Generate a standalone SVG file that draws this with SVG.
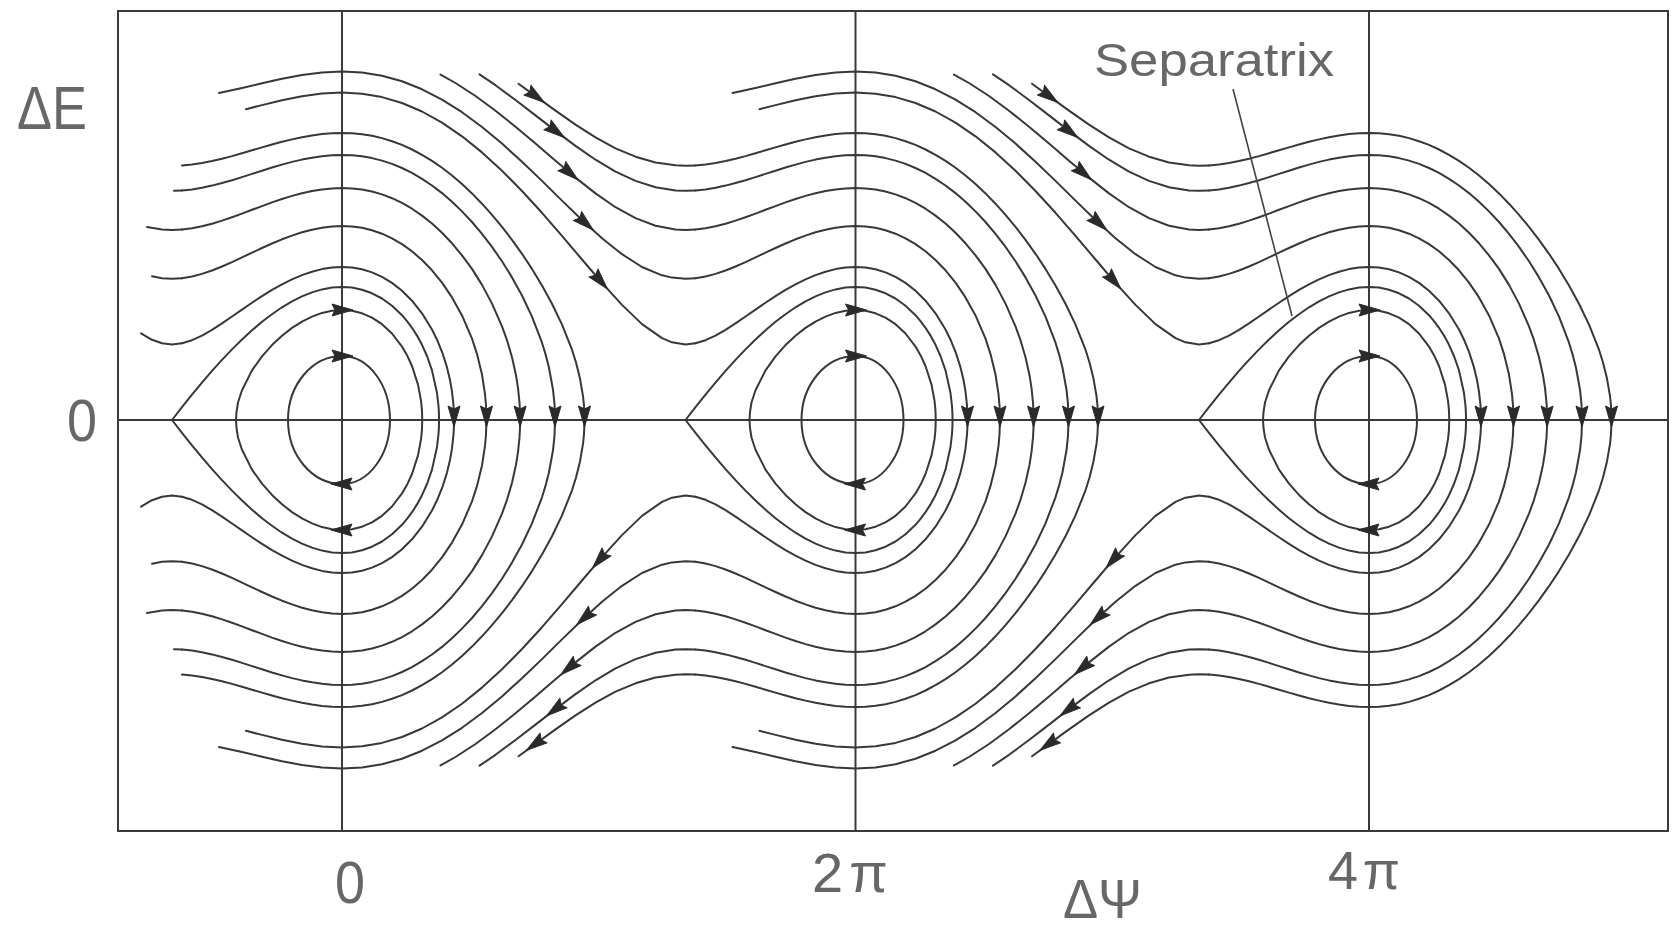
<svg xmlns="http://www.w3.org/2000/svg" width="1673" height="929" viewBox="0 0 1673 929">
<style>
.c{fill:none;stroke:#383838;stroke-width:2;stroke-linejoin:round;stroke-linecap:round}
.ax{fill:none;stroke:#3a3a3a;stroke-width:2}
.ld{fill:none;stroke:#444;stroke-width:1.6}
.ah{fill:#2a2a2a;stroke:#2a2a2a;stroke-width:1;stroke-linejoin:round}
.t{font-family:"Liberation Sans",Arial,sans-serif;fill:#676767}
</style>
<defs>
<path id="ah" class="ah" d="M11,0 L-10,-6 L-7,0 L-10,6 Z"/>
<g id="coreU" class="c">
<path d="M-54,0 A54,64 0 0 1 0,-64 A48,64 0 0 1 48,0"/>
<polyline points="-106,0 -105.5,-8 -104,-17.5 -100,-29.8 -90,-49.6 -80,-63.6 -70,-74.9 -60,-84.3 -50,-92.1 -40,-98.4 -30,-103.4 -20,-107.1 -10,-109.2 0,-110 10,-109.2 20,-106.7 30,-102.3 40,-95.8 50,-86.5 60,-73.4 65,-64.8 70,-54 76,-35.4 79,-19.4 79.8,-11.6 80,-8.5 80.24,0"/>
<polyline points="-170,0 -160,-12.8 -150,-25.3 -140,-37.4 -130,-49.1 -120,-60.1 -110,-70.6 -100,-80.5 -90,-89.7 -80,-98.2 -70,-105.8 -60,-112.7 -50,-118.6 -40,-123.6 -30,-127.6 -20,-130.6 -10,-132.4 0,-133 10,-132.4 20,-130.3 30,-126.7 40,-121.5 50,-114.3 60,-104.8 65,-98.9 70,-92.2 75,-84.4 80,-75.2 85,-64 90,-49.6 95,-27 96.5,-14 96.9,-7.4 97.05,0"/>
<polyline points="-160,-76.7 -150,-79.8 -140,-84.4 -130,-90.2 -120,-96.6 -110,-103.5 -100,-110.4 -90,-117.3 -80,-123.9 -70,-130.1 -60,-135.7 -50,-140.7 -40,-144.9 -30,-148.3 -20,-150.9 -10,-152.5 0,-153 10,-152.4 20,-150.7 30,-147.6 40,-143.1 50,-137.1 60,-129.2 70,-119.3 80,-106.7 90,-90.5 95,-80.3 100,-68.2 105,-52.6 108,-40 110,-28.4 111.5,-14.6 111.9,-7.5 112.04,0"/>
<polyline points="-160,-141.8 -150,-143.5 -140,-146.1 -130,-149.5 -120,-153.5 -110,-157.9 -100,-162.6 -90,-167.3 -80,-172 -70,-176.5 -60,-180.7 -50,-184.4 -40,-187.7 -30,-190.3 -20,-192.3 -10,-193.6 0,-194 10,-193.6 20,-192.2 30,-189.8 40,-186.3 50,-181.7 60,-175.9 70,-168.7 80,-160 90,-149.7 100,-137.4 110,-122.6 120,-104.6 130,-81.4 135,-65.9 140,-45.4 143,-25.9 144,-14.5 144.45,0"/>
<polyline points="-160,-190.5 -150,-191.8 -140,-193.7 -130,-196.3 -120,-199.4 -110,-202.8 -100,-206.4 -90,-210.2 -80,-213.9 -70,-217.6 -60,-221 -50,-224.1 -40,-226.7 -30,-229 -20,-230.6 -10,-231.6 0,-232 10,-231.6 20,-230.5 30,-228.5 40,-225.6 50,-221.8 60,-217.1 70,-211.3 80,-204.4 90,-196.5 100,-187.3 110,-176.7 120,-164.7 130,-151.1 140,-135.1 150,-116.4 160,-93.7 165,-79.8 170,-62.8 174,-44.7 176,-32.1 177.5,-17.4 178,-7.8 178.13,0"/>
<polyline points="-160,-229.6 -150,-230.6 -140,-232.2 -130,-234.4 -120,-237 -110,-239.8 -100,-242.9 -90,-246.1 -80,-249.3 -70,-252.5 -60,-255.4 -50,-258.1 -40,-260.4 -30,-262.3 -20,-263.8 -10,-264.7 0,-265 10,-264.7 20,-263.7 30,-261.9 40,-259.4 50,-256.1 60,-252 70,-247.1 80,-241.2 90,-234.5 100,-226.9 110,-218.2 120,-208.6 130,-198 140,-186.1 150,-173.1 160,-158.7 170,-142.6 180,-124.5 190,-103.4 200,-77.3 204,-64.1 207,-52.3 211,-30.3 212.5,-15.8 213.06,0"/>
<polyline points="-160,-254.6 -150,-255.6 -140,-257.1 -130,-259 -120,-261.3 -110,-263.9 -100,-266.8 -90,-269.7 -80,-272.6 -70,-275.5 -60,-278.2 -50,-280.6 -40,-282.8 -30,-284.5 -20,-285.9 -10,-286.7 0,-287 10,-286.7 20,-285.8 30,-284.2 40,-281.9 50,-278.8 60,-275.1 70,-270.5 80,-265.2 90,-259.1 100,-252.2 110,-244.5 120,-235.9 130,-226.6 140,-216.3 150,-205.2 160,-193.2 170,-180.2 180,-166.2 190,-151.1 200,-134.6 210,-116.3 220,-95.4 230,-70.3 234,-57.5 238,-41.4 241,-23.9 242,-14.2 242.54,0"/>
</g>
<g id="passU" class="c">
<polyline points="-96,-310.8 -80,-314.9 -60,-319.7 -40,-323.7 -20,-326.4 0,-327.4 20,-326.3 40,-322.9 60,-317 80,-308.5 100,-297.4 120,-283.7 140,-267.6 160,-249.3 180,-229 200,-207.2 220,-184.2 240,-160.5 260,-137.2 280,-115.1 300,-95.9 320,-81.9 330,-77.7 343.5,-75.6 353.5,-76.7"/>
<polyline points="-123,-327.1 -100,-332 -80,-336.7 -60,-341.2 -40,-345 -20,-347.5 0,-348.4 20,-347.4 40,-344.2 60,-338.7 80,-330.7 100,-320.4 120,-307.8 140,-293 160,-276.4 180,-258.2 200,-239.1 220,-219.4 240,-200 260,-181.8 280,-165.8 300,-153 320,-144.7 330,-142.4 343.5,-141.2 353.5,-141.8"/>
</g>
<g id="diagU" class="c">
<polyline points="-415,-345.4 -400,-337 -380,-324 -360,-309.3 -340,-293.3 -320,-276.4 -300,-259.2 -280,-242.4 -260,-226.6 -240,-212.8 -220,-201.9 -200,-194.3 -180,-190.6 -170,-190.1 -160,-190.5"/>
<polyline points="-376,-345.7 -360,-334.8 -340,-320 -320,-304.6 -300,-289.1 -280,-274.1 -260,-260.3 -240,-248.4 -220,-239.1 -200,-232.7 -180,-229.6 -170,-229.2 -160,-229.6"/>
<polyline points="-337,-336.3 -320,-323.9 -300,-309.4 -280,-295.4 -260,-282.6 -240,-271.7 -220,-263.3 -200,-257.5 -180,-254.7 -170,-254.3 -160,-254.6"/>
</g>
<g id="stubU" class="c">
<polyline points="-201,-86.6 -190,-80.2 -180,-76.8 -170,-75.6 -160,-76.7"/>
<polyline points="-190,-143.7 -180,-141.8 -170,-141.2 -160,-141.8"/>
<polyline points="-195,-193.1 -180,-190.6 -170,-190.1 -160,-190.5"/>
<polyline points="-168,-229.3 -160,-229.6"/>
</g>
<g id="arrB">
<use href="#ah" transform="translate(0,-64)"/>
<use href="#ah" transform="translate(0,-110)"/>
<use href="#ah" transform="translate(0,64) rotate(180)"/>
<use href="#ah" transform="translate(0,110) rotate(180)"/>
<use href="#ah" transform="translate(112,-4) rotate(90)"/>
<use href="#ah" transform="translate(144.5,-4) rotate(90)"/>
<use href="#ah" transform="translate(178.1,-4) rotate(90)"/>
<use href="#ah" transform="translate(213,-4) rotate(90)"/>
<use href="#ah" transform="translate(242.5,-4) rotate(90)"/>
</g>
<g id="arrD">
<use href="#ah" transform="translate(-320,-323.9) rotate(36)"/>
<use href="#ah" transform="translate(-300,-289.1) rotate(37)"/>
<use href="#ah" transform="translate(-286,-247.4) rotate(40)"/>
<use href="#ah" transform="translate(-270.5,-197.3) rotate(42)"/>
<use href="#ah" transform="translate(-255.5,-139.5) rotate(49)"/>
<use href="#ah" transform="translate(-320,323.9) rotate(144)"/>
<use href="#ah" transform="translate(-300,289.1) rotate(143)"/>
<use href="#ah" transform="translate(-286,247.4) rotate(140)"/>
<use href="#ah" transform="translate(-270.5,197.3) rotate(138)"/>
<use href="#ah" transform="translate(-255.5,139.5) rotate(131)"/>
</g>
</defs>
<rect width="1673" height="929" fill="#fff"/>
<g id="frame">
<rect class="ax" x="118" y="11" width="1550" height="820"/>
<line class="ax" x1="118" y1="420" x2="1668" y2="420"/>
<line class="ax" x1="342" y1="11" x2="342" y2="831"/>
<line class="ax" x1="855.5" y1="11" x2="855.5" y2="831"/>
<line class="ax" x1="1369" y1="11" x2="1369" y2="831"/>
</g>
<g id="bucket-0" transform="translate(342,420)">
<use href="#coreU"/><use href="#coreU" transform="scale(1,-1)"/>
<use href="#stubU"/><use href="#stubU" transform="scale(1,-1)"/>
<use href="#passU"/><use href="#passU" transform="scale(1,-1)"/>
<use href="#arrB"/>
</g>
<g id="bucket-2pi" transform="translate(855.5,420)">
<use href="#coreU"/><use href="#coreU" transform="scale(1,-1)"/>
<use href="#diagU"/><use href="#diagU" transform="scale(1,-1)"/>
<use href="#passU"/><use href="#passU" transform="scale(1,-1)"/>
<use href="#arrB"/><use href="#arrD"/>
</g>
<g id="bucket-4pi" transform="translate(1369,420)">
<use href="#coreU"/><use href="#coreU" transform="scale(1,-1)"/>
<use href="#diagU"/><use href="#diagU" transform="scale(1,-1)"/>
<use href="#arrB"/><use href="#arrD"/>
</g>
<g id="separatrix-label">
<line class="ld" x1="1233" y1="89" x2="1292" y2="316"/>
<text class="t" x="1094" y="76" font-size="47" textLength="240" lengthAdjust="spacingAndGlyphs">Separatrix</text>
</g>
<g id="axis-labels">
<text class="t" x="17" y="129" font-size="62" textLength="70" lengthAdjust="spacingAndGlyphs">ΔE</text>
<text class="t" x="67" y="441" font-size="60" textLength="30" lengthAdjust="spacingAndGlyphs">0</text>
<text class="t" x="335" y="903" font-size="60" textLength="30" lengthAdjust="spacingAndGlyphs">0</text>
<text class="t" x="812" y="892" font-size="56" textLength="76" lengthAdjust="spacing">2π</text>
<text class="t" x="1328" y="889" font-size="54" textLength="72" lengthAdjust="spacing">4π</text>
<text class="t" x="1063" y="918" font-size="56" textLength="79" lengthAdjust="spacingAndGlyphs">ΔΨ</text>
</g>
</svg>
